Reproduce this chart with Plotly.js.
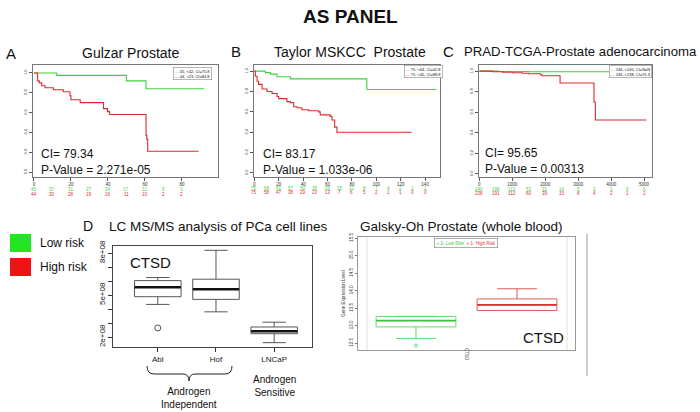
<!DOCTYPE html>
<html><head><meta charset="utf-8">
<script src="https://cdn.plot.ly/plotly-3.0.1.min.js"></script>
<style>html,body{margin:0;padding:0;background:#fff}</style>
</head><body><div id="chart" style="width:700px;height:412px"></div>
<script>
// ---------- DATA ----------
// Panel A: Gulzar Prostate (Kaplan-Meier)
const aGreenTime = [0, 12.3, 50, 60.6, 92];
const aGreenSurv = [1.0, 0.975, 0.92, 0.84, 0.84];
const aRedTime = [0, 2, 2.9, 4.2, 6, 10.5, 15.9, 19.5, 20, 25, 37.6, 39.8, 40.9, 60.6, 61, 61.5, 89];
const aRedSurv = [1, 0.92, 0.9, 0.87, 0.85, 0.83, 0.81, 0.77, 0.73, 0.70, 0.64, 0.61, 0.58, 0.37, 0.33, 0.21, 0.21];
const aRiskTimes = [0, 10, 20, 30, 40, 50, 60, 70, 80];
const aRiskLow = [45, 37, 31, 27, 24, 17, 12, 5, 3];
const aRiskHigh = [44, 30, 28, 19, 16, 11, 10, 2, 2];
const aTicks = [0, 20, 40, 60, 80];

// Panel B: Taylor MSKCC Prostate
const bGreenTime = [0, 9, 13.1, 18.6, 29.5, 92.2, 149];
const bGreenSurv = [1, 0.985, 0.97, 0.945, 0.924, 0.82, 0.82];
const bRedTime = [0, 0.8, 2.2, 3.5, 6.3, 10.4, 14.5, 18.6, 19.9, 26.7, 29.5, 32.2, 34.9, 39, 44.5, 52.7, 54, 62.2, 63.6, 65.8, 67.7, 129];
const bRedSurv = [1, 0.95, 0.9, 0.87, 0.825, 0.80, 0.78, 0.75, 0.73, 0.70, 0.69, 0.65, 0.64, 0.62, 0.61, 0.60, 0.57, 0.555, 0.52, 0.45, 0.40, 0.40];
const bRiskTimes = [0, 10, 20, 30, 40, 50, 60, 70, 80, 90, 100, 110, 120, 130, 140];
const bRiskLow = [75, 68, 61, 57, 50, 35, 26, 15, 12, 8, 7, 4, 2, 1, 1];
const bRiskHigh = [75, 58, 47, 38, 29, 23, 13, 7, 6, 5, 2, 1, 1, 0, 0];
const bTicks = [0, 20, 40, 60, 80, 100, 120, 140];

// Panel C: PRAD-TCGA
const cGreenTime = [0, 600, 1500, 5000];
const cGreenSurv = [1, 0.997, 0.995, 0.995];
const cRedTime = [0, 400, 700, 1000, 1300, 1500, 1850, 1900, 2450, 3480, 3520, 5070];
const cRedSurv = [1, 0.995, 0.99, 0.985, 0.98, 0.975, 0.965, 0.955, 0.885, 0.70, 0.525, 0.525];
const cRiskTimes = [0, 500, 1000, 1500, 2000, 2500, 3000, 3500, 4000, 4500, 5000];
const cRiskLow = [240, 198, 113, 53, 31, 14, 5, 2, 1, 0, 0];
const cRiskHigh = [238, 191, 112, 60, 39, 15, 8, 4, 2, 1, 1];
const cTicks = [0, 1000, 2000, 3000, 4000, 5000];

// Panel D: LC MS/MS boxplots
const dCells = ['Abl', 'Hof', 'LNCaP'];
const dQ1 = [4.88e8, 4.69e8, 2.24e8];
const dMedian = [5.55e8, 5.41e8, 2.41e8];
const dQ3 = [6.03e8, 6.13e8, 2.72e8];
const dLower = [4.33e8, 3.80e8, 1.60e8];
const dUpper = [6.25e8, 8.19e8, 3.06e8];
const dOutlierCell = ['Abl'];
const dOutlierVal = [2.65e8];
const dTickVals = [2e8, 3e8, 4e8, 5e8, 6e8, 7e8, 8e8];
const dTickText = ['2e+08', '', '', '5e+08', '', '', '8e+08'];

// Galsky-Oh boxplots
const gGroups = ['2- Low Risk', '1- High Risk'];
const gQ1 = [12.96, 13.43];
const gMedian = [13.14, 13.59];
const gQ3 = [13.26, 13.76];
const gLower = [12.63, 13.43];
const gUpper = [13.26, 14.05];
const gOutlierGroup = ['2- Low Risk'];
const gOutlierVal = [12.43];
const gTickVals = [12.5, 13.0, 13.5, 14.0, 14.5, 15.0, 15.5];

// ---------- HELPERS ----------
const W = 700, H = 412;
const FONT = 'Liberation Sans, Arial, sans-serif';
const GREEN = '#3fd13f', RED = '#dd2b2b';
const fx = x => x / W, fy = y => 1 - y / H;
function ann(text, x, y, size, o = {}) {
  return Object.assign({
    text, x: fx(x), y: fy(y), xref: 'paper', yref: 'paper', showarrow: false,
    xanchor: 'center', yanchor: 'middle',
    font: { family: FONT, size, color: o.color || '#111' }
  }, o.extra || {});
}
function riskAnn(times, vals, xref, y, color) {
  return times.map((t, i) => ({
    text: String(vals[i]), x: t, y: fy(y), xref, yref: 'paper', showarrow: false,
    xanchor: 'center', yanchor: 'middle', font: { family: FONT, size: 4.5, color }
  }));
}
function kmX(domPx, range, tickvals, anchor) {
  return {
    domain: [fx(domPx[0]), fx(domPx[1])], range, anchor, tickvals,
    ticks: 'outside', ticklen: 3, tickcolor: '#555', tickfont: { family: FONT, size: 4.5, color: '#333' },
    showline: true, mirror: true, linecolor: '#777', linewidth: 1, showgrid: false, zeroline: false
  };
}
function kmY(range, anchor) {
  return {
    domain: [fy(177), fy(65)], range, anchor,
    tickvals: [0, 0.2, 0.4, 0.6, 0.8, 1.0], ticktext: ['0.0', '0.2', '0.4', '0.6', '0.8', '1.0'],
    tickangle: -90, ticks: 'outside', ticklen: 3, tickcolor: '#555',
    tickfont: { family: FONT, size: 4, color: '#333' },
    showline: true, mirror: true, linecolor: '#777', linewidth: 1, showgrid: false, zeroline: false
  };
}
function km(x, y, color, xa, ya) {
  return { type: 'scatter', mode: 'lines', x, y, xaxis: xa, yaxis: ya,
    line: { color, width: 1.1, shape: 'hv' }, hoverinfo: 'skip', showlegend: false };
}

// ---------- TRACES ----------
const traces = [
  km(aGreenTime, aGreenSurv, GREEN, 'x', 'y'),
  km(aRedTime, aRedSurv, RED, 'x', 'y'),
  km(bGreenTime, bGreenSurv, GREEN, 'x2', 'y2'),
  km(bRedTime, bRedSurv, RED, 'x2', 'y2'),
  km(cGreenTime, cGreenSurv, GREEN, 'x3', 'y3'),
  km(cRedTime, cRedSurv, RED, 'x3', 'y3'),
  { type: 'box', x: dCells, q1: dQ1, median: dMedian, q3: dQ3, lowerfence: dLower, upperfence: dUpper,
    xaxis: 'x4', yaxis: 'y4', width: 0.8, whiskerwidth: 0.5, boxpoints: false,
    fillcolor: 'rgba(0,0,0,0)', line: { color: '#444', width: 0.9 }, showlegend: false, hoverinfo: 'skip' },
  { type: 'scatter', mode: 'markers', x: dCells, y: dMedian, xaxis: 'x4', yaxis: 'y4',
    marker: { symbol: 'line-ew', size: 33, color: '#111', line: { color: '#111', width: 2.4 } }, showlegend: false, hoverinfo: 'skip' },
  { type: 'scatter', mode: 'markers', x: dOutlierCell, y: dOutlierVal, xaxis: 'x4', yaxis: 'y4',
    marker: { symbol: 'circle-open', size: 6, color: '#444', line: { color: '#444', width: 0.9 } }, showlegend: false, hoverinfo: 'skip' },
  { type: 'box', x: [gGroups[0]], q1: [gQ1[0]], median: [gMedian[0]], q3: [gQ3[0]], lowerfence: [gLower[0]], upperfence: [gUpper[0]],
    xaxis: 'x5', yaxis: 'y5', width: 0.79, whiskerwidth: 0.5, boxpoints: false,
    fillcolor: 'rgba(0,0,0,0)', line: { color: '#6ad56a', width: 1 }, showlegend: false, hoverinfo: 'skip' },
  { type: 'box', x: [gGroups[1]], q1: [gQ1[1]], median: [gMedian[1]], q3: [gQ3[1]], lowerfence: [gLower[1]], upperfence: [gUpper[1]],
    xaxis: 'x5', yaxis: 'y5', width: 0.79, whiskerwidth: 0.5, boxpoints: false,
    fillcolor: 'rgba(0,0,0,0)', line: { color: '#e45a5a', width: 1 }, showlegend: false, hoverinfo: 'skip' },
  { type: 'scatter', mode: 'markers', x: gGroups, y: gMedian, xaxis: 'x5', yaxis: 'y5',
    marker: { symbol: 'line-ew', size: 57, color: ['#3cbf3c', '#d83030'], line: { color: ['#3cbf3c', '#d83030'], width: 1.8 } }, showlegend: false, hoverinfo: 'skip' },
  { type: 'scatter', mode: 'markers', x: gOutlierGroup, y: gOutlierVal, xaxis: 'x5', yaxis: 'y5',
    marker: { symbol: 'circle-open', size: 3, color: '#6ad56a', line: { color: '#6ad56a', width: 1 } }, showlegend: false, hoverinfo: 'skip' }
];

// ---------- ANNOTATIONS ----------
const left = { xanchor: 'left', align: 'left' };
const annotations = [
  ann('<b>AS PANEL</b>', 350, 17, 19),
  ann('A', 11, 53, 15), ann('Gulzar Prostate', 130, 53, 14),
  ann('B', 236, 52, 15), ann('Taylor MSKCC  Prostate', 350, 52, 14),
  ann('C', 448, 52, 15), ann('PRAD-TCGA-Prostate adenocarcinoma', 462, 51, 13.2, { extra: { xanchor: 'left' } }),
  ann('CI= 79.34<br>P-Value = 2.271e-05', 39, 161.5, 12, { extra: left }),
  ann('CI= 83.17<br>P-Value = 1.033e-06', 261, 161.5, 12, { extra: left }),
  ann('CI= 95.65<br>P-Value = 0.00313', 483, 161, 12, { extra: left }),
  // KM legends
  ann(`<span style="color:${GREEN}">—</span> 45, &lt;42, CI=75.8<br><span style="color:${RED}">—</span> 44, &lt;23, CI=84.8`, 212, 67, 4, { extra: { xanchor: 'right', yanchor: 'top', align: 'left', bordercolor: '#888', borderwidth: 0.6, borderpad: 1, bgcolor: '#fff' } }),
  ann(`<span style="color:${GREEN}">—</span> 75, &lt;64, CI=42.8<br><span style="color:${RED}">—</span> 75, &lt;40, CI=88.8`, 443, 65, 4, { extra: { xanchor: 'right', yanchor: 'top', align: 'left', bordercolor: '#888', borderwidth: 0.6, borderpad: 1, bgcolor: '#fff' } }),
  ann(`<span style="color:${GREEN}">—</span> 246, &lt;240, CI=NaN<br><span style="color:${RED}">—</span> 246, &lt;238, CI=91.3`, 652, 65, 4, { extra: { xanchor: 'right', yanchor: 'top', align: 'left', bordercolor: '#888', borderwidth: 0.6, borderpad: 1, bgcolor: '#fff' } }),
  // risk legend
  ann('Low risk', 38, 243, 12, { extra: { xanchor: 'left' } }),
  ann('High risk', 38, 267, 12, { extra: { xanchor: 'left' } }),
  // Panel D
  ann('D', 88, 226, 14), ann('LC MS/MS analysis of PCa cell lines', 107, 226, 13.5, { extra: { xanchor: 'left' } }),
  ann('CTSD', 128, 262, 15, { extra: { xanchor: 'left' } }),
  ann('Androgen<br>Independent', 189, 398, 10),
  ann('Androgen<br>Sensitive', 274, 386, 10),
  // Galsky
  ann('Galsky-Oh Prostate (whole blood)', 358, 226, 13.5, { extra: { xanchor: 'left' } }),
  ann('CTSD', 566, 337, 15, { extra: { xanchor: 'right' } }),
  ann(`<span style="color:#44c444">+ 2- Low Risk</span>  <span style="color:#e03a3a">+ 1- High Risk</span>`, 466, 243, 4.5, { extra: { bordercolor: '#777', borderwidth: 0.6, borderpad: 2, bgcolor: '#fff' } }),
  { text: 'CTSD', x: 0.5, y: fy(363), xref: 'x5', yref: 'paper', showarrow: false, textangle: 90,
    font: { family: FONT, size: 4.5, color: '#333' } }
].concat(
  riskAnn(aRiskTimes, aRiskLow, 'x', 189, GREEN), riskAnn(aRiskTimes, aRiskHigh, 'x', 194, RED),
  riskAnn(bRiskTimes, bRiskLow, 'x2', 188, GREEN), riskAnn(bRiskTimes, bRiskHigh, 'x2', 192, RED),
  riskAnn(cRiskTimes, cRiskLow, 'x3', 189, GREEN), riskAnn(cRiskTimes, cRiskHigh, 'x3', 193, RED)
);

// ---------- SHAPES ----------
const P = (x, y) => `${fx(x)},${fy(y)}`;
const shapes = [
  { type: 'rect', xref: 'paper', yref: 'paper', x0: fx(10), x1: fx(31), y0: fy(252), y1: fy(234), fillcolor: '#22e622', line: { width: 0 } },
  { type: 'rect', xref: 'paper', yref: 'paper', x0: fx(10), x1: fx(31), y0: fy(276), y1: fy(258), fillcolor: '#ee1414', line: { width: 0 } },
  { type: 'path', xref: 'paper', yref: 'paper',
    path: `M${P(147, 366)} Q${P(147, 374)} ${P(154, 374)} L${P(183, 374)} Q${P(189, 374)} ${P(189, 381)} Q${P(189, 374)} ${P(195, 374)} L${P(225, 374)} Q${P(232, 374)} ${P(232, 366)}`,
    line: { color: '#222', width: 1 } },
  { type: 'line', xref: 'paper', yref: 'paper', x0: fx(587), x1: fx(587), y0: fy(234), y1: fy(376), line: { color: '#999', width: 1 } },
  { type: 'line', xref: 'paper', yref: 'paper', x0: fx(367), x1: fx(367), y0: fy(237), y1: fy(350), line: { color: '#e2e2e2', width: 1 } },
  { type: 'line', xref: 'paper', yref: 'paper', x0: fx(567), x1: fx(567), y0: fy(237), y1: fy(350), line: { color: '#e2e2e2', width: 1 } }
];

// ---------- LAYOUT ----------
const layout = {
  width: W, height: H, margin: { l: 0, r: 0, t: 0, b: 0 },
  paper_bgcolor: '#fff', plot_bgcolor: 'rgba(0,0,0,0)', showlegend: false, boxmode: 'overlay',
  font: { family: FONT },
  xaxis: kmX([33, 218], [-0.5, 99.5], aTicks, 'y'),
  yaxis: kmY([-0.05, 1.08], 'x'),
  xaxis2: kmX([254, 440], [-0.3, 152.2], bTicks, 'y2'),
  yaxis2: kmY([-0.04, 1.06], 'x2'),
  xaxis3: kmX([479, 652], [-10, 5240], cTicks, 'y3'),
  yaxis3: kmY([-0.03, 1.06], 'x3'),
  xaxis4: {
    domain: [fx(113), fx(312)], anchor: 'y4', type: 'category', categoryarray: dCells, range: [-0.77, 2.65],
    ticks: 'outside', ticklen: 4, tickcolor: '#333', tickfont: { family: FONT, size: 8, color: '#222' },
    showline: true, mirror: true, linecolor: '#444', linewidth: 1, showgrid: false, zeroline: false
  },
  yaxis4: {
    domain: [fy(347), fy(246)], anchor: 'x4', range: [1.29e8, 8.5e8], tickvals: dTickVals, ticktext: dTickText,
    tickangle: -90, ticks: 'outside', ticklen: 4, tickcolor: '#333', tickfont: { family: FONT, size: 8, color: '#222' },
    showline: true, mirror: true, linecolor: '#444', linewidth: 1, showgrid: false, zeroline: false
  },
  xaxis5: {
    domain: [fx(358), fx(575)], anchor: 'y5', type: 'category', categoryarray: gGroups, range: [-0.574, 1.574],
    showticklabels: false, ticks: '',
    showline: true, mirror: true, linecolor: '#999', linewidth: 1.2, showgrid: false, zeroline: false
  },
  yaxis5: {
    domain: [fy(350), fy(237)], anchor: 'x5', range: [12.3, 15.53], tickvals: gTickVals,
    ticktext: gTickVals.map(v => v.toFixed(1)),
    tickangle: -90, ticks: 'outside', ticklen: 2, tickcolor: '#777', tickfont: { family: FONT, size: 4.5, color: '#333' },
    title: { text: 'Gene Expression Level', font: { family: FONT, size: 4.5, color: '#333' }, standoff: 3 },
    showline: true, mirror: true, linecolor: '#999', linewidth: 1.2, showgrid: false, zeroline: false
  },
  annotations, shapes
};

Plotly.newPlot('chart', traces, layout, { staticPlot: true, displayModeBar: false });
</script>
</body></html>
